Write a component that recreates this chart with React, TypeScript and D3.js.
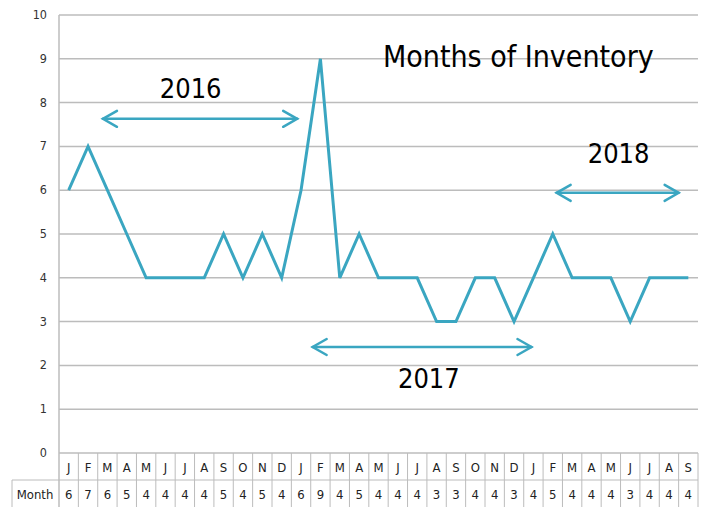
import * as d3 from 'd3';
import { useEffect, useRef } from 'react';

const months = ["J", "F", "M", "A", "M", "J", "J", "A", "S", "O", "N", "D",
    "J", "F", "M", "A", "M", "J", "J", "A", "S", "O", "N", "D",
    "J", "F", "M", "A", "M", "J", "J", "A", "S"];
const inventory = [6, 7, 6, 5, 4, 4, 4, 4, 5, 4, 5, 4,
    6, 9, 4, 5, 4, 4, 4, 3, 3, 4, 4, 3,
    4, 5, 4, 4, 4, 3, 4, 4, 4];
const yTicks = [0, 1, 2, 3, 4, 5, 6, 7, 8, 9, 10];
const title = "Months of Inventory";
const rowLabel = "Month";

// year spans: arrow from/to in month index, y in chart units; label position likewise
const yearSpans = [
    { label: "2016", from: 1.77, to: 11.8, y: 7.63, tx: 6.3, ty: 8.1 },
    { label: "2017", from: 12.6, to: 23.9, y: 2.42, tx: 18.6, ty: 1.48 },
    { label: "2018", from: 25.2, to: 31.5, y: 5.94, tx: 28.4, ty: 6.62 },
];

const App = () => {
    const ref = useRef<SVGSVGElement>(null);

    useEffect(() => {
        const W = 706, H = 507;
        const left = 59, right = 698, top = 15, bottom = 453;
        const rowH = 27;
        const font = "'DejaVu Sans Condensed', 'DejaVu Sans', sans-serif";
        const grid = "#bcbcbc";
        const lineColor = "#3aa6c1";

        const svg = d3.select(ref.current!);
        svg.selectAll("*").remove();
        svg.attr("width", W).attr("height", H);

        const x = d3.scaleBand<number>()
            .domain(d3.range(months.length))
            .range([left, right]);
        const xc = (i: number) => left + (i + 0.5) * x.bandwidth();

        const y = d3.scaleLinear().domain([0, 10]).range([bottom, top]);

        // gridlines
        svg.append("g")
            .selectAll("line")
            .data(yTicks)
            .join("line")
            .attr("x1", left).attr("x2", right)
            .attr("y1", d => y(d)).attr("y2", d => y(d))
            .attr("stroke", grid).attr("stroke-width", 1.5);

        // y tick labels
        svg.append("g")
            .selectAll("text")
            .data(yTicks)
            .join("text")
            .attr("x", 47).attr("y", d => y(d) + 4)
            .attr("text-anchor", "end")
            .style("font-family", font).style("font-size", "12.5px")
            .attr("fill", "#333")
            .text(d => d);

        // axis line
        svg.append("line")
            .attr("x1", left).attr("x2", left)
            .attr("y1", top).attr("y2", H)
            .attr("stroke", grid).attr("stroke-width", 1.5);

        // table under the chart
        const table = svg.append("g");
        table.append("line")
            .attr("x1", 12).attr("x2", right)
            .attr("y1", bottom + rowH).attr("y2", bottom + rowH)
            .attr("stroke", grid);
        table.append("line")
            .attr("x1", 12).attr("x2", 12)
            .attr("y1", bottom + rowH).attr("y2", H)
            .attr("stroke", grid);
        table.selectAll("line.cell")
            .data(d3.range(months.length))
            .join("line")
            .attr("class", "cell")
            .attr("x1", i => x(i)! + x.bandwidth()).attr("x2", i => x(i)! + x.bandwidth())
            .attr("y1", bottom).attr("y2", H)
            .attr("stroke", grid);
        table.selectAll("text.m")
            .data(months)
            .join("text")
            .attr("class", "m")
            .attr("x", (_, i) => xc(i)).attr("y", bottom + 19)
            .attr("text-anchor", "middle")
            .style("font-family", font).style("font-size", "13px")
            .attr("fill", "#222")
            .text(d => d);
        table.selectAll("text.v")
            .data(inventory)
            .join("text")
            .attr("class", "v")
            .attr("x", (_, i) => xc(i)).attr("y", bottom + rowH + 19)
            .attr("text-anchor", "middle")
            .style("font-family", font).style("font-size", "13px")
            .attr("fill", "#222")
            .text(d => d);
        table.append("text")
            .attr("x", 35).attr("y", bottom + rowH + 19)
            .attr("text-anchor", "middle")
            .style("font-family", font).style("font-size", "13px")
            .attr("fill", "#222")
            .text(rowLabel);

        // line
        const line = d3.line<number>()
            .x((_, i) => xc(i))
            .y(d => y(d));
        svg.append("path")
            .datum(inventory)
            .attr("fill", "none")
            .attr("stroke", lineColor)
            .attr("stroke-width", 3)
            .attr("stroke-linejoin", "miter")
            .attr("d", line);

        // year arrows
        const ax = (v: number) => left + (v + 0.5) * x.bandwidth();
        yearSpans.forEach(s => {
            const x1 = ax(s.from), x2 = ax(s.to), yy = y(s.y);
            const g = svg.append("g")
                .attr("stroke", lineColor).attr("stroke-width", 2.5)
                .attr("fill", "none").attr("stroke-linecap", "round");
            g.append("line").attr("x1", x1).attr("x2", x2).attr("y1", yy).attr("y2", yy);
            g.append("path").attr("d", `M${x1 + 14},${yy - 8}L${x1},${yy}L${x1 + 14},${yy + 8}`);
            g.append("path").attr("d", `M${x2 - 14},${yy - 8}L${x2},${yy}L${x2 - 14},${yy + 8}`);
            svg.append("text")
                .attr("x", ax(s.tx)).attr("y", y(s.ty))
                .attr("text-anchor", "middle")
                .style("font-family", font).style("font-size", "27px")
                .attr("fill", "#000")
                .text(s.label);
        });

        // title
        svg.append("text")
            .attr("x", 383).attr("y", 67)
            .style("font-family", font).style("font-size", "30px")
            .attr("fill", "#000")
            .text(title);
    }, []);

    return <svg ref={ref} style={{ position: "absolute", left: 0, top: 0 }} />;
};

export default App;
